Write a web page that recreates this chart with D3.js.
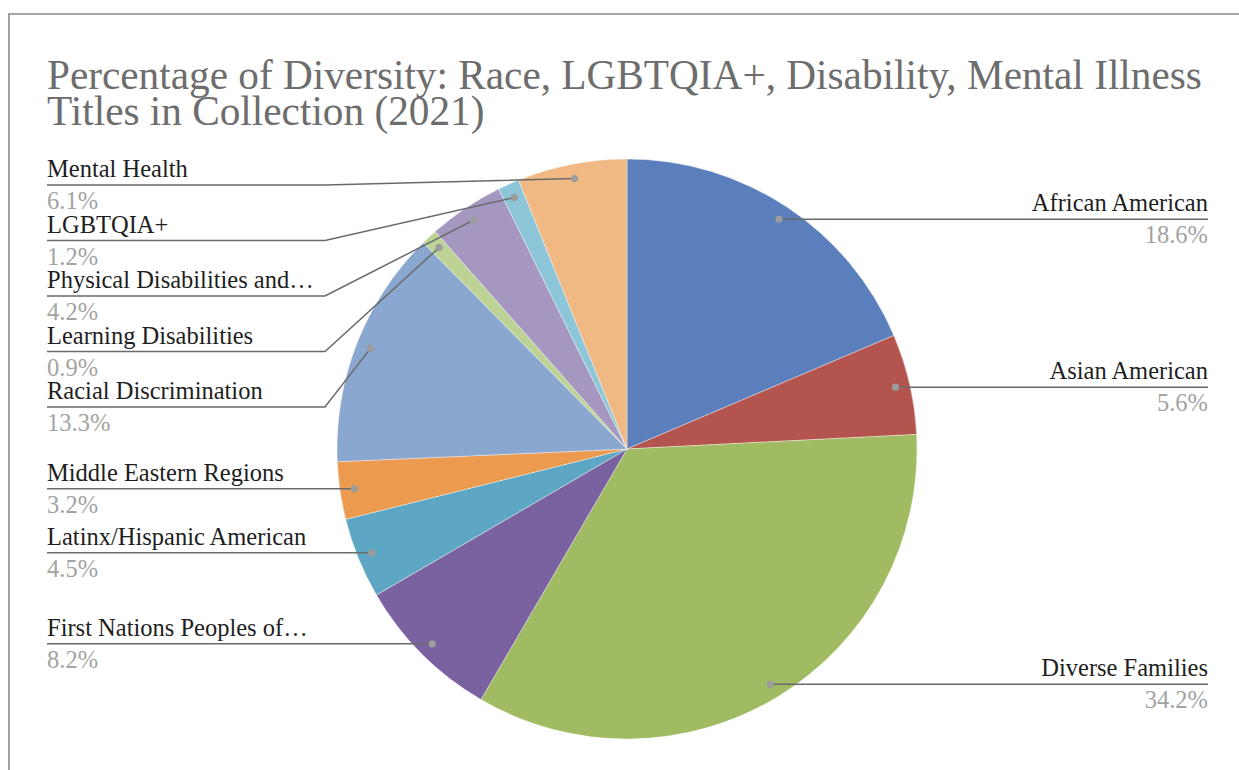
<!DOCTYPE html>
<html>
<head>
<meta charset="utf-8">
<script src="https://cdn.jsdelivr.net/npm/d3@7"></script>
<style>
  html, body { margin: 0; padding: 0; background: #fff; }
  svg { display: block; }
</style>
</head>
<body>
<svg id="chart" width="1239" height="770"></svg>
<script>
// Categories and their share of titles in the collection (percent), in clockwise order from 12 o'clock
const categories = [
  "African American", "Asian American", "Diverse Families", "First Nations Peoples of…",
  "Latinx/Hispanic American", "Middle Eastern Regions", "Racial Discrimination",
  "Learning Disabilities", "Physical Disabilities and…", "LGBTQIA+", "Mental Health"
];
const shares = [18.6, 5.6, 34.2, 8.2, 4.5, 3.2, 13.3, 0.9, 4.2, 1.2, 6.1];
const sliceColors = [
  "#5a7fbc", "#b4544f", "#a0bb62", "#7a62a0", "#5ea7c4", "#ec9a4f",
  "#8aa7d0", "#bcd395", "#a697c1", "#8ec6d9", "#f0b883"
];
const titleLines = [
  "Percentage of Diversity: Race, LGBTQIA+, Disability, Mental Illness",
  "Titles in Collection (2021)"
];

const data = categories.map((name, i) => ({ name, value: shares[i], color: sliceColors[i] }));

const svg = d3.select("#chart");
const W = 1239, H = 770;
const cx = 627, cy = 449, R = 290;
const dotR = R * 0.95;
const serif = "'Liberation Serif', 'Times New Roman', Times, serif";

// Frame
svg.append("path")
  .attr("d", `M9,${H} L9,14 L${W},14`)
  .attr("fill", "none")
  .attr("stroke", "#8a8a8a")
  .attr("stroke-width", 1.6);

// Title (slightly condensed serif)
const title = svg.append("g")
  .attr("transform", "translate(47,0) scale(0.96,1)")
  .append("text")
  .attr("font-family", serif)
  .attr("font-size", 43)
  .attr("fill", "#6d6d6d");
titleLines.forEach((line, i) => {
  title.append("tspan").attr("x", 0).attr("y", 89 + i * 36).text(line);
});

// Pie
const pie = d3.pie().value(d => d.value).sort(null);
const arcs = pie(data);
const arc = d3.arc().innerRadius(0).outerRadius(R);
const g = svg.append("g").attr("transform", `translate(${cx},${cy})`);

g.selectAll("path.slice")
  .data(arcs)
  .join("path")
  .attr("class", "slice")
  .attr("d", arc)
  .attr("fill", d => d.data.color)
  .attr("stroke", "rgba(255,255,255,0.55)")
  .attr("stroke-width", 0.7);

// Leader points on each wedge
const pts = arcs.map(a => {
  const mid = (a.startAngle + a.endAngle) / 2;
  return {
    d: a.data,
    x: cx + dotR * Math.sin(mid),
    y: cy - dotR * Math.cos(mid),
    side: Math.sin(mid) >= 0 ? "right" : "left"
  };
});

// Stack labels on each side so they never overlap
const labelTop = 185, labelGap = 55.5;
["left", "right"].forEach(side => {
  const group = pts.filter(p => p.side === side).sort((a, b) => a.y - b.y);
  let prev = labelTop - labelGap;
  group.forEach(p => {
    p.ly = Math.max(p.y, prev + labelGap);
    prev = p.ly;
  });
});

const leftX = 47, leftElbow = 325, rightX = 1208;
const labels = svg.append("g");

pts.forEach(p => {
  const pointsLine = p.side === "left"
    ? [[leftX, p.ly], [leftElbow, p.ly], [p.x, p.y]]
    : [[p.x, p.y], [rightX, p.ly]];
  labels.append("path")
    .attr("d", d3.line()(pointsLine))
    .attr("fill", "none")
    .attr("stroke", "#6a6a6a")
    .attr("stroke-width", 1.5);
  labels.append("circle")
    .attr("cx", p.x).attr("cy", p.y).attr("r", 3.6)
    .attr("fill", "#9c9c9c");

  const tx = p.side === "left" ? leftX : rightX;
  const anchor = p.side === "left" ? "start" : "end";
  labels.append("text")
    .attr("x", tx).attr("y", p.ly - 8)
    .attr("text-anchor", anchor)
    .attr("font-family", serif).attr("font-size", 24.5)
    .attr("fill", "#1e1e1e")
    .text(p.d.name);
  labels.append("text")
    .attr("x", tx).attr("y", p.ly + 24)
    .attr("text-anchor", anchor)
    .attr("font-family", serif).attr("font-size", 24.5)
    .attr("fill", "#a3a3a3")
    .text(d3.format(".1f")(p.d.value) + "%");
});
</script>
</body>
</html>
